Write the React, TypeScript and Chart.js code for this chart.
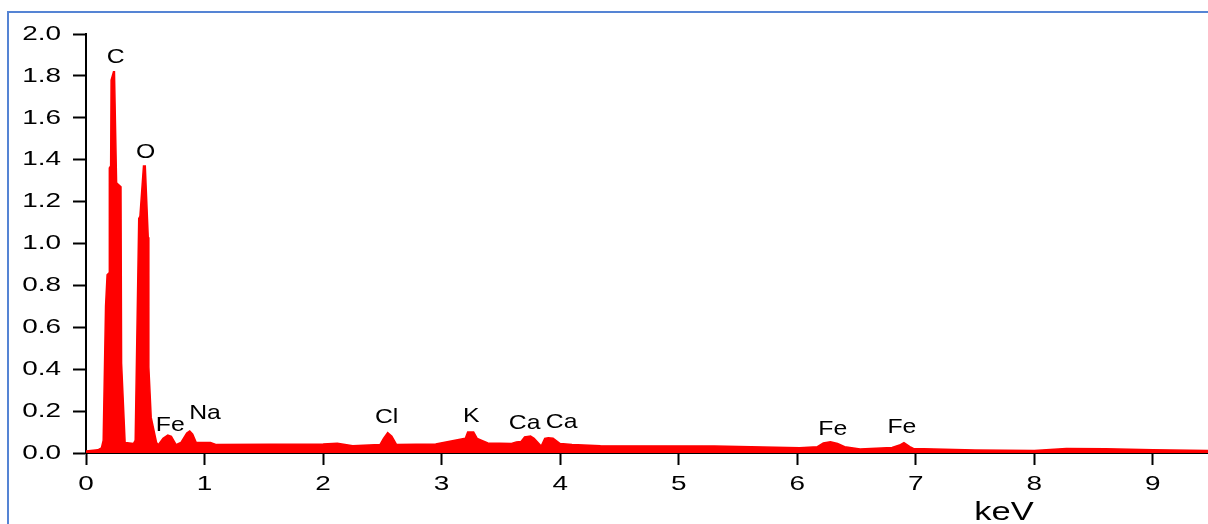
import React, { useEffect, useRef } from "react";
import { Chart, registerables } from "chart.js";

Chart.register(...registerables);

// Spectrum (keV vs intensity)
const energies = [
  0.0, 0.1, 0.13, 0.145, 0.165, 0.178, 0.195, 0.197, 0.208, 0.212, 0.232, 0.24, 0.258, 0.295, 0.3, 0.33,
  0.4, 0.415, 0.445, 0.455, 0.485, 0.5, 0.525, 0.53, 0.55, 0.595, 0.61, 0.65, 0.69, 0.72, 0.76, 0.8,
  0.85, 0.875, 0.9, 0.93, 1.05, 1.1, 2.0, 2.12, 2.25, 2.48, 2.51, 2.545, 2.58, 2.62, 2.95, 3.2,
  3.22, 3.27, 3.3, 3.39, 3.59, 3.63, 3.67, 3.7, 3.75, 3.78, 3.84, 3.87, 3.9, 3.94, 4.0, 4.1,
  4.34, 5.3, 6.02, 6.17, 6.22, 6.28, 6.34, 6.4, 6.53, 6.8, 6.87, 6.9, 6.95, 6.98, 7.5, 8.0,
  8.27, 8.6, 9.0, 9.465,
];
const intensities = [
  0.01, 0.015, 0.024, 0.06, 0.7, 0.85, 0.86, 1.36, 1.37, 1.78, 1.82, 1.82, 1.29, 1.27, 0.43, 0.05,
  0.045, 0.06, 1.12, 1.13, 1.37, 1.37, 1.03, 0.41, 0.17, 0.05, 0.04, 0.07, 0.086, 0.08, 0.04, 0.05,
  0.095, 0.105, 0.09, 0.05, 0.05, 0.04, 0.043, 0.046, 0.035, 0.04, 0.07, 0.097, 0.08, 0.04, 0.043, 0.07,
  0.1, 0.1, 0.07, 0.048, 0.045, 0.053, 0.055, 0.077, 0.081, 0.07, 0.033, 0.07, 0.073, 0.07, 0.045, 0.04,
  0.035, 0.033, 0.025, 0.03, 0.048, 0.054, 0.045, 0.03, 0.019, 0.026, 0.04, 0.049, 0.03, 0.022, 0.014, 0.012,
  0.022, 0.02, 0.015, 0.012,
];

// Peak annotations
const peakNames = ["C", "O", "Fe", "Na", "Cl", "K", "Ca", "Ca", "Fe", "Fe"];
const peakLabelEnergies = [0.25, 0.504, 0.711, 1.004, 2.536, 3.25, 3.7, 4.013, 6.3, 6.883];
const peakLabelHeights = [1.89, 1.437, 0.132, 0.192, 0.169, 0.178, 0.142, 0.148, 0.114, 0.121];

// Axes
const xTickValues = [0, 1, 2, 3, 4, 5, 6, 7, 8, 9];
const xTickLabels = ["0", "1", "2", "3", "4", "5", "6", "7", "8", "9"];
const yTickValues = [0, 0.2, 0.4, 0.6, 0.8, 1.0, 1.2, 1.4, 1.6, 1.8, 2.0];
const yTickLabels = ["0.0", "0.2", "0.4", "0.6", "0.8", "1.0", "1.2", "1.4", "1.6", "1.8", "2.0"];
const xAxisTitle = "keV";
const xMin = 0;
const xMax = 9.465;
const yMin = 0;
const yMax = 2.0;

const FONT = "'Liberation Sans', Arial, sans-serif";

function stretchedText(
  ctx: CanvasRenderingContext2D,
  text: string,
  x: number,
  y: number,
  size: number,
  sx: number,
  align: CanvasTextAlign,
  baseline: CanvasTextBaseline
) {
  ctx.save();
  ctx.translate(x, y);
  ctx.scale(sx, 1);
  ctx.font = `${size}px ${FONT}`;
  ctx.fillStyle = "#000";
  ctx.textAlign = align;
  ctx.textBaseline = baseline;
  ctx.fillText(text, 0, 0);
  ctx.restore();
}

const labelPlugin = {
  id: "spectrumLabels",
  afterDraw(chart: any) {
    const ctx: CanvasRenderingContext2D = chart.ctx;
    const xs = chart.scales.x;
    const ys = chart.scales.y;
    yTickValues.forEach((v, i) => {
      const py = ys.getPixelForValue(v);
      stretchedText(ctx, yTickLabels[i], 61, py, 21, 1.33, "right", "middle");
    });
    xTickValues.forEach((v, i) => {
      const px = xs.getPixelForValue(v);
      stretchedText(ctx, xTickLabels[i], px, 484, 21, 1.33, "center", "middle");
    });
    stretchedText(ctx, xAxisTitle, 1004, 520, 25, 1.38, "center", "alphabetic");
    peakNames.forEach((n, i) => {
      const px = xs.getPixelForValue(peakLabelEnergies[i]);
      const py = ys.getPixelForValue(peakLabelHeights[i]);
      stretchedText(ctx, n, px, py, 21, 1.18, "center", "middle");
    });
  },
};

export default function App() {
  const canvasRef = useRef<HTMLCanvasElement | null>(null);

  useEffect(() => {
    document.body.style.margin = "0";
    document.body.style.overflow = "hidden";
    const canvas = canvasRef.current;
    if (!canvas) return;
    const data = energies.map((e, i) => ({ x: e, y: intensities[i] }));
    const chart = new Chart(canvas, {
      type: "line",
      data: {
        datasets: [
          {
            data,
            borderColor: "#ff0000",
            backgroundColor: "#ff0000",
            borderWidth: 1.5,
            pointRadius: 0,
            tension: 0,
            fill: "origin",
          },
        ],
      },
      options: {
        animation: false,
        responsive: false,
        maintainAspectRatio: false,
        layout: { padding: { top: 34, left: 0, right: 0, bottom: 0 } },
        plugins: {
          legend: { display: false },
          tooltip: { enabled: false },
        },
        scales: {
          x: {
            type: "linear",
            min: xMin,
            max: xMax,
            afterBuildTicks: (s: any) => {
              s.ticks = xTickValues.map((v) => ({ value: v }));
            },
            afterFit: (s: any) => {
              s.height = 71;
            },
            ticks: { display: false },
            grid: {
              drawOnChartArea: false,
              drawTicks: true,
              tickLength: 12,
              tickWidth: 2,
              tickColor: "#000",
            },
            border: { display: true, color: "#000", width: 2 },
          },
          y: {
            type: "linear",
            min: yMin,
            max: yMax,
            afterBuildTicks: (s: any) => {
              s.ticks = yTickValues.map((v) => ({ value: v }));
            },
            afterFit: (s: any) => {
              s.width = 86;
            },
            ticks: { display: false },
            grid: {
              drawOnChartArea: false,
              drawTicks: true,
              tickLength: 13,
              tickWidth: 2,
              tickColor: "#000",
            },
            border: { display: true, color: "#000", width: 2 },
          },
        },
      },
      plugins: [labelPlugin],
    } as any);
    return () => chart.destroy();
  }, []);

  return (
    <div style={{ position: "fixed", left: 0, top: 0, width: 1208, height: 524, background: "#fff", overflow: "hidden" }}>
      <div
        style={{
          position: "absolute",
          left: 7,
          top: 11,
          width: 1201,
          height: 513,
          borderLeft: "2px solid #5584d4",
          borderTop: "2px solid #5584d4",
          boxSizing: "border-box",
        }}
      />
      <canvas
        ref={canvasRef}
        width={1208}
        height={524}
        style={{ position: "absolute", left: 0, top: 0, width: 1208, height: 524, display: "block" }}
      />
    </div>
  );
}
